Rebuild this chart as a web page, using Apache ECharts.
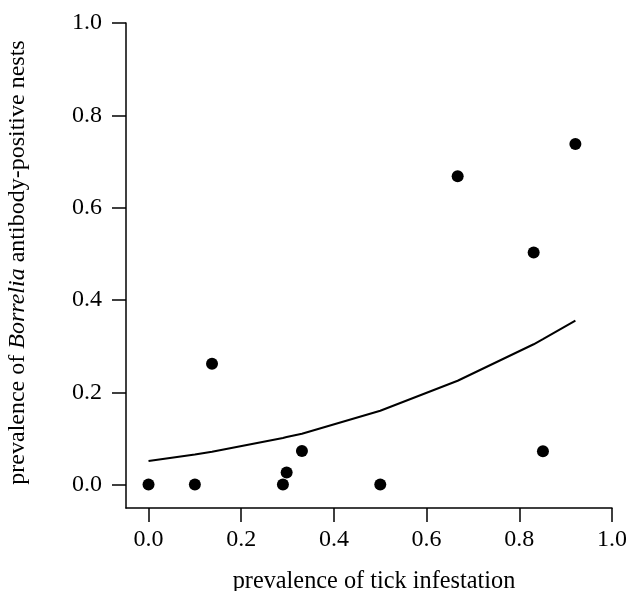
<!DOCTYPE html>
<html>
<head>
<meta charset="utf-8">
<script src="https://cdn.jsdelivr.net/npm/echarts@6/dist/echarts.min.js"></script>
<style>
html,body{margin:0;padding:0;background:#fff;}
#chart{width:626px;height:591px;}
</style>
</head>
<body>
<div id="chart"></div>
<script>
// Observed points: prevalence of tick infestation (x) vs prevalence of antibody-positive nests (y)
var pointX = [0.0, 0.1, 0.137, 0.29, 0.298, 0.331, 0.5, 0.667, 0.831, 0.851, 0.921];
var pointY = [0.0, 0.0, 0.262, 0.0, 0.026, 0.073, 0.0, 0.668, 0.503, 0.072, 0.738];
// Fitted curve values read at the same x positions
var fitX = [0.0, 0.1, 0.137, 0.29, 0.298, 0.331, 0.5, 0.667, 0.831, 0.851, 0.921];
var fitY = [0.051, 0.065, 0.071, 0.101, 0.103, 0.110, 0.160, 0.225, 0.304, 0.315, 0.355];
var tickValues = [0, 0.2, 0.4, 0.6, 0.8, 1.0];

var FONT = 'Liberation Serif';
var scatterData = pointX.map(function (x, i) { return [x, pointY[i]]; });
var lineData = fitX.map(function (x, i) { return [x, fitY[i]]; });

var chart = echarts.init(document.getElementById('chart'), null, { renderer: 'canvas' });
var axisCommon = {
  type: 'value',
  splitLine: { show: false },
  axisLine: { show: true, onZero: false, lineStyle: { color: '#000', width: 1.5 } },
  axisTick: { show: true, inside: false, length: 14, customValues: tickValues, lineStyle: { color: '#000', width: 1.5 } },
  axisLabel: {
    customValues: tickValues,
    color: '#000', fontFamily: FONT, fontSize: 24,
    formatter: function (v) { return v.toFixed(1); }
  },
  nameLocation: 'middle'
};

chart.setOption({
  animation: false,
  backgroundColor: '#fff',
  grid: { left: 126, right: 14, top: 23, bottom: 83, containLabel: false, outerBoundsMode: 'none' },
  xAxis: Object.assign({}, axisCommon, {
    min: -0.0486, max: 1.0,
    axisLabel: Object.assign({}, axisCommon.axisLabel, { margin: 20 }),
    name: 'prevalence of tick infestation',
    nameGap: 62,
    nameTextStyle: { color: '#000', fontFamily: FONT, fontSize: 24.3, padding: [0, 0, 0, 10] }
  }),
  yAxis: Object.assign({}, axisCommon, {
    min: -0.0507, max: 1.0,
    axisLabel: Object.assign({}, axisCommon.axisLabel, { margin: 24 }),
    name: 'prevalence of {i|Borrelia} antibody-positive nests',
    nameGap: 96,
    nameRotate: 90,
    nameTextStyle: {
      color: '#000', fontFamily: FONT, fontSize: 24, padding: [0, 0, 0, 6],
      rich: { i: { fontStyle: 'italic', fontFamily: FONT, fontSize: 24, color: '#000' } }
    }
  }),
  series: [
    {
      type: 'line',
      data: lineData,
      showSymbol: false,
      symbol: 'none',
      lineStyle: { color: '#000', width: 2 },
      z: 2
    },
    {
      type: 'scatter',
      data: scatterData,
      symbol: 'circle',
      symbolSize: 12,
      itemStyle: { color: '#000', opacity: 1 },
      z: 3
    }
  ]
});
</script>
</body>
</html>
